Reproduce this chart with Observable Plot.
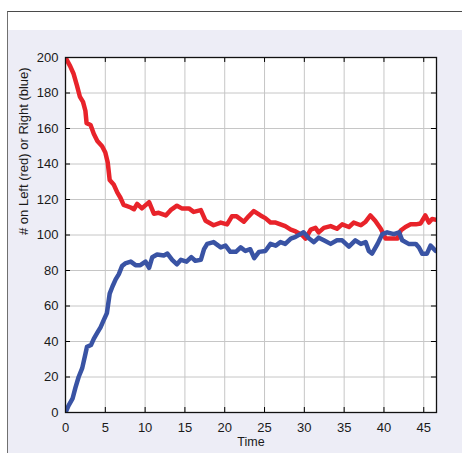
<!DOCTYPE html>
<html><head><meta charset="utf-8">
<script src="https://cdn.jsdelivr.net/npm/d3@7"></script>
<script src="https://cdn.jsdelivr.net/npm/@observablehq/plot@0.6"></script>
<style>
body{margin:0;background:#fff;}
#wrap{position:relative;width:462px;height:453px;overflow:hidden;}
#panel{position:absolute;left:7px;top:11px;width:470px;height:460px;border-left:1.5px solid #707070;border-top:1.5px solid #4a4a4a;background:linear-gradient(#fff 0 18px,#ededf6 18px);}
#chart{position:absolute;left:0;top:0;}
</style></head><body>
<div id="wrap"><div id="panel"></div><div id="chart"></div></div>
<script>
const timeBlue = [0,0.4,0.9,1.25,1.65,2.1,2.5,2.7,3.2,3.55,4.0,4.4,4.8,5.2,5.55,5.9,6.3,6.7,7.1,7.5,8.2,8.8,9.4,10.05,10.5,10.9,11.5,12.35,12.8,13.4,14.0,14.5,15.2,15.8,16.3,17.0,17.4,17.8,18.6,19.5,20.1,20.7,21.4,22.0,22.6,23.2,23.7,24.3,25.1,25.75,26.4,27.0,27.6,28.3,28.9,29.5,29.9,30.6,31.2,31.8,32.45,33.3,34.1,34.75,35.6,36.4,37.1,37.7,38.1,38.5,39.2,39.8,40.4,41.25,41.9,42.3,43.1,44.0,44.4,44.8,45.4,45.85,46.5,46.7];
const blue = [0,4,8,14,20,25,33,37,38,41.5,45,48,52,56,67,71,75,78,82.5,84,85,83,83,85,81.5,87.5,89,88.5,89.5,86,83.5,86,85,87.5,85.5,86,92,95,96,93,94,90.5,90.5,93,91,92,87,90.5,91,95,94,96,95,98,99,100.5,101.5,98,96,98.5,97,95,97,97,93.5,97,95,96,91,89.5,95,100.5,101.5,100.5,101.5,97,95,95,93,89.5,89.5,94,91,91.5];
const timeRed = [0,0.6,1.0,1.45,1.8,2.2,2.5,2.65,3.15,3.55,4.0,4.6,5.0,5.3,5.55,6.05,6.5,6.9,7.3,8.2,8.6,9.0,9.6,10.5,11.1,11.7,12.6,13.2,14.0,14.6,15.5,16.1,17.0,17.6,18.6,19.5,20.3,20.9,21.5,22.4,23.0,23.65,24.5,25.1,25.75,26.4,27.0,27.6,28.3,28.9,29.7,30.15,30.8,31.4,31.8,32.45,33.3,34.1,34.75,35.6,36.2,37.1,37.7,38.3,38.9,39.6,40.2,40.9,41.7,42.1,42.7,43.35,44.0,44.6,45.2,45.65,46.05,46.7];
const red = [200,195,191,184,178,175,170,163,162,157,153,150,146.5,141,131,128.5,124,121,117,115.5,114.5,117.5,115,118.5,112,112.5,111,114,116.5,115,115,113,114,108,105.5,107,106,110.5,110.5,107.5,110.5,113.5,111,109.5,107,107,106,105,103,102,100,98,103,104,101.5,104,105,103.5,106,104.5,107,105.5,107.5,111,108,103.5,98,98,98,102.5,104.5,106,106,106.5,111,107,109,108.5];
const xTicks = [0,5,10,15,20,25,30,35,40,45];
const yTicks = [0,20,40,60,80,100,120,140,160,180,200];
const xLabel = "Time";
const yLabel = "# on Left (red) or Right (blue)";

const blueData = timeBlue.map((t,i)=>({t, v: blue[i]}));
const redData = timeRed.map((t,i)=>({t, v: red[i]}));

const plot = Plot.plot({
  width: 462, height: 453,
  marginLeft: 65, marginRight: 26, marginTop: 57, marginBottom: 41,
  style: {background: "transparent", fontFamily: "'Liberation Sans', Arial, sans-serif", fontSize: "13px", color: "#1a1a1a"},
  x: {domain: [0, 46.6]},
  y: {domain: [0, 200]},
  marks: [
    Plot.frame({fill: "white", stroke: null}),
    Plot.gridX(xTicks, {stroke: "#c6c6c6", strokeOpacity: 1}),
    Plot.gridY(yTicks, {stroke: "#c6c6c6", strokeOpacity: 1}),
    Plot.line(redData, {x: "t", y: "v", stroke: "#e8232a", strokeWidth: 4.5, clip: true}),
    Plot.line(blueData, {x: "t", y: "v", stroke: "#3953a4", strokeWidth: 4.5, clip: true}),
    Plot.ruleX(xTicks, {x: d => d, y1: 0, y2: 2.8, stroke: "#000"}),
    Plot.ruleX(xTicks, {x: d => d, y1: 200, y2: 197.2, stroke: "#000"}),
    Plot.ruleY(yTicks, {y: d => d, x1: 0, x2: 0.63, stroke: "#000"}),
    Plot.ruleY(yTicks, {y: d => d, x1: 46.6, x2: 45.97, stroke: "#000"}),
    Plot.frame({stroke: "#111", strokeWidth: 1.3}),
    Plot.axisX(xTicks, {tickSize: 0, tickPadding: 10, fontSize: 13, label: null}),
    Plot.axisY(yTicks, {tickSize: 0, tickPadding: 7, fontSize: 13, label: null}),
    Plot.text([xLabel], {frameAnchor: "bottom", dy: 33, fontSize: 12.5}),
    Plot.text([yLabel], {frameAnchor: "left", rotate: -90, dx: -42, fontSize: 13})
  ]
});
document.getElementById("chart").appendChild(plot);
</script>
</body></html>
